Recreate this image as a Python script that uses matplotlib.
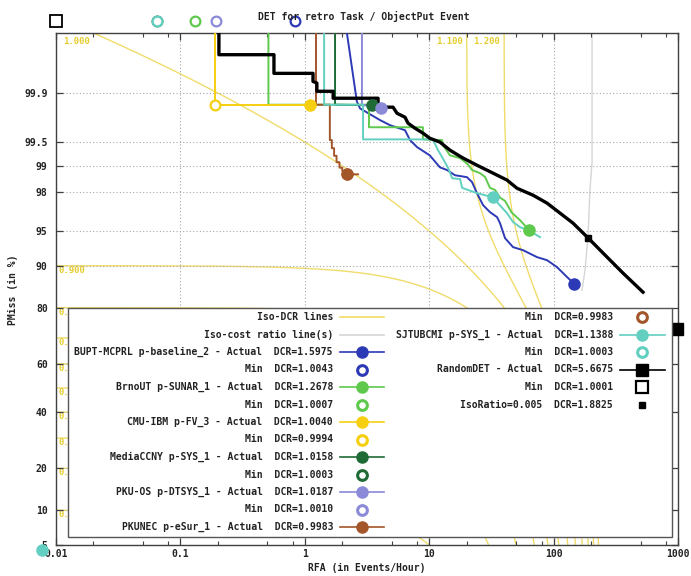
import math
import numpy as np
import matplotlib
matplotlib.use("Agg")
import matplotlib.pyplot as plt
from matplotlib.lines import Line2D
from matplotlib.patches import Rectangle
from matplotlib.ticker import FixedLocator, NullFormatter, NullLocator
from statistics import NormalDist

# ---------------- data ----------------
title = "DET for retro Task / ObjectPut Event"
xlabel = "RFA (in Events/Hour)"
ylabel = "PMiss (in %)"

beta = 0.005
iso_dcr_levels = [0.1, 0.2, 0.3, 0.4, 0.5, 0.6, 0.7, 0.8, 0.9, 1.0, 1.1, 1.2]

x_ticks = [0.01, 0.1, 1, 10, 100, 1000]
x_tick_labels = ["0.01", "0.1", "1", "10", "100", "1000"]
y_ticks = [5, 10, 20, 40, 60, 80, 90, 95, 98, 99, 99.5, 99.9]
y_tick_labels = ["5", "10", "20", "40", "60", "80", "90", "95", "98", "99", "99.5", "99.9"]

bupt_rfa = [0.83, 2.1, 2.18, 2.62, 2.78, 4.02, 4.84, 6.39, 7.01, 7.98, 10.1, 12.2, 13.9, 16.1,
            20.1, 22.1, 24.2, 27.1, 30.8, 35.1, 37.1, 40.7, 47.2, 56.8, 73.6, 88.6, 106.6, 128.3, 147.0]
bupt_pmiss = [100, 100, 99.99, 99.866, 99.83, 99.75, 99.705, 99.654, 99.53, 99.42, 99.26, 98.96, 98.88,
              98.71, 98.64, 98.45, 97.94, 97.23, 96.73, 96.33, 95.79, 94.18, 93.0, 92.56, 91.48, 90.97,
              89.72, 87.74, 86.2]

brno_rfa = [0.13, 0.51, 0.51, 3.28, 3.28, 8.9, 8.9, 12.7, 12.9, 14.7, 17.7, 20.5, 22.1, 25.6, 28.1,
            30.8, 33.8, 37.1, 40.7, 46.0, 53.7, 60.5, 63.5]
brno_pmiss = [100, 100, 99.85, 99.85, 99.685, 99.685, 99.54, 99.53, 99.45, 99.26, 99.2, 99.04, 98.88,
              98.78, 98.65, 98.2, 98.1, 97.7, 97.5, 96.7, 96.06, 95.4, 95.1]

cmu_rfa = [0.19, 0.19, 1.1]
cmu_pmiss = [100, 99.85, 99.85]

ccny_rfa = [0.065, 1.75, 1.75, 3.47]
ccny_pmiss = [100, 100, 99.85, 99.847]

pkuos_rfa = [0.195, 2.88, 2.88, 4.1]
pkuos_pmiss = [100, 100, 99.85, 99.835]

pkunec_rfa = [1.23, 1.23, 1.59, 1.59, 1.65, 1.65, 1.72, 1.72, 1.80, 1.80, 1.90, 1.90, 2.0, 2.0, 2.18, 2.68]
pkunec_pmiss = [100, 99.85, 99.85, 99.53, 99.53, 99.4, 99.4, 99.25, 99.25, 99.1, 99.1, 98.95, 98.95,
                98.85, 98.74, 98.74]

sjtu_rfa = [0.065, 1.43, 1.43, 2.94, 2.94, 10.7, 11.8, 12.7, 14.2, 15.3, 17.7, 18.4, 20.5, 24.2, 29.2,
            32.3, 42.2, 47.2, 53.7, 62.3, 77.8]
sjtu_pmiss = [100, 100, 99.85, 99.85, 99.54, 99.54, 99.36, 99.22, 98.94, 98.6, 98.57, 98.2, 98.1,
              97.94, 97.8, 97.72, 96.65, 95.9, 95.4, 95.1, 94.3]

rand_rfa = [0.01, 0.204, 0.204, 0.565, 0.565, 1.164, 1.164, 1.25, 1.25, 1.69, 1.69, 3.88, 3.88, 5.12,
            5.51, 6.39, 6.76, 7.69, 8.92, 10.1, 12.2, 14.7, 18.7, 24.2, 32.6, 42.2, 50.8, 68.3, 88.6,
            112.7, 143.3, 188.0, 249.9, 361.7, 523.2]
rand_pmiss = [100, 100, 99.976, 99.976, 99.951, 99.951, 99.934, 99.93, 99.906, 99.906, 99.88, 99.88,
              99.837, 99.837, 99.80, 99.772, 99.723, 99.675, 99.62, 99.556, 99.5, 99.363, 99.2, 99.02,
              98.78, 98.53, 98.18, 97.83, 97.36, 96.65, 95.79, 94.25, 92.12, 88.55, 84.23]

isoratio_line_rfa = [203.7, 203.7, 196, 189, 179, 169]
isoratio_line_pmiss = [100, 99.1, 98.1, 94.3, 89.2, 84.7]

# actual / min points per system
sys_names = ["BUPT-MCPRL p-baseline_2", "BrnoUT p-SUNAR_1", "CMU-IBM p-FV_3", "MediaCCNY p-SYS_1",
             "PKU-OS p-DTSYS_1", "PKUNEC p-eSur_1", "SJTUBCMI p-SYS_1", "RandomDET"]
sys_colors = ["#2d3ab5", "#5ec94c", "#f6cf10", "#1f6b35", "#8a8ad8", "#a4562b", "#62cfc0", "#000000"]
actual_dcr = ["1.5975", "1.2678", "1.0040", "1.0158", "1.0187", "0.9983", "1.1388", "5.6675"]
min_dcr = ["1.0043", "1.0007", "0.9994", "1.0003", "1.0010", "0.9983", "1.0003", "1.0001"]
actual_rfa = [147.0, 63.5, 1.1, 3.47, 4.1, 2.18, 32.3, 987.0]
actual_pmiss = [86.2, 95.1, 99.85, 99.847, 99.835, 98.74, 97.72, 73.1]
min_rfa = [0.83, 0.13, 0.19, 0.065, 0.195, 2.18, 0.065, 0.01]
min_pmiss = [99.994, 99.994, 99.85, 99.994, 99.994, 98.74, 99.994, 99.994]
curves_rfa = [bupt_rfa, brno_rfa, cmu_rfa, ccny_rfa, pkuos_rfa, pkunec_rfa, sjtu_rfa, rand_rfa]
curves_pmiss = [bupt_pmiss, brno_pmiss, cmu_pmiss, ccny_pmiss, pkuos_pmiss, pkunec_pmiss, sjtu_pmiss, rand_pmiss]

isoratio_label = "IsoRatio=0.005"
isoratio_dcr = "1.8825"
isoratio_rfa = 188.0
isoratio_pmiss = 94.25

stray_rfa = 0.0077
stray_pmiss = 4.5

# ---------------- styles ----------------
iso_color = "#f1dc6a"
iso_text_color = "#e6cc2a"
gray_color = "#d6d6d6"
text_color = "#222222"
FONT = dict(family="DejaVu Sans Mono", weight="bold", size=7)

_nd = NormalDist()
_inv_cdf = np.vectorize(_nd.inv_cdf, otypes=[float])
_erf = np.vectorize(math.erf, otypes=[float])


def fwd(p):
    p = np.asarray(p, dtype=float)
    q = np.clip(p / 100.0, 1e-9, 1 - 1e-9)
    return _inv_cdf(q)


def inv(z):
    z = np.asarray(z, dtype=float)
    return 50.0 * (1.0 + _erf(z / math.sqrt(2.0)))


W, H = 691, 576
fig = plt.figure(figsize=(W / 100, H / 100), dpi=100)
ax = fig.add_axes([56 / W, 1 - 545 / H, 622 / W, 512 / H])


def fx(px):
    return px / W


def fy(py):
    return 1 - py / H


ax.set_xscale("log")
ax.set_yscale("function", functions=(fwd, inv))
ax.set_xlim(0.01, 1000)
ax.set_ylim(5, 99.99)

# ticks and grid
ax.xaxis.set_major_locator(FixedLocator(x_ticks))
ax.set_xticklabels(x_tick_labels, **FONT, color=text_color)
minor = [m * d for d in [0.01, 0.1, 1, 10, 100] for m in (2, 5, 8)]
ax.xaxis.set_minor_locator(FixedLocator(minor))
ax.xaxis.set_minor_formatter(NullFormatter())
ax.yaxis.set_major_locator(FixedLocator(y_ticks))
ax.set_yticklabels(y_tick_labels, **FONT, color=text_color)
ax.yaxis.set_minor_locator(NullLocator())
ax.grid(True, which="major", ls=(0, (1, 2)), color="#a8a8a8", lw=0.8, zorder=0)
ax.tick_params(which="both", direction="in", top=True, right=True, color="#404040")
ax.tick_params(which="major", length=5, width=0.9)
ax.tick_params(which="minor", length=3, width=0.8)
ax.tick_params(axis="y", pad=6)
ax.tick_params(axis="x", pad=3)
for s in ax.spines.values():
    s.set_color("#404040")
    s.set_linewidth(1.0)

# iso-DCR lines
rfa_grid = np.logspace(-2.2, 3.2, 4000)
for lvl in iso_dcr_levels:
    p = np.clip((lvl - beta * rfa_grid) * 100.0, 1e-7, 100.0)
    ax.plot(rfa_grid, p, color=iso_color, lw=1.0, zorder=1)
    lab = "%.3f" % lvl
    if lvl < 1.0:
        ax.text(0.0104, lvl * 100, lab, ha="left", va="top", color=iso_text_color,
                family="DejaVu Sans Mono", weight="bold", size=6.5, zorder=1)
    else:
        entry = (lvl - 0.9999) / beta
        ax.text(entry * 0.93, 99.988, lab, ha="right", va="top", color=iso_text_color,
                family="DejaVu Sans Mono", weight="bold", size=6.5, zorder=1)

# iso-cost ratio line
ax.plot(isoratio_line_rfa, isoratio_line_pmiss, color=gray_color, lw=1.0, zorder=1)

# system curves
for i in range(len(sys_names)):
    c = sys_colors[i]
    lw = 2.4 if sys_names[i] == "RandomDET" else 1.4
    ax.plot(curves_rfa[i], curves_pmiss[i], color=c, lw=lw, zorder=3 + (i == 7))
    if sys_names[i] == "RandomDET":
        ax.plot([min_rfa[i]], [min_pmiss[i]], marker="s", ms=8, mfc="white", mec=c, mew=1.3,
                ls="none", clip_on=False, zorder=6)
        ax.plot([actual_rfa[i]], [actual_pmiss[i]], marker="s", ms=8, color=c, ls="none",
                clip_on=False, zorder=6)
    else:
        ax.plot([min_rfa[i]], [min_pmiss[i]], marker="o", ms=7, mfc="white", mec=c, mew=1.6,
                ls="none", clip_on=False, zorder=5 - (i == 3))
        ax.plot([actual_rfa[i]], [actual_pmiss[i]], marker="o", ms=8, color=c, ls="none",
                clip_on=False, zorder=6)

ax.plot([isoratio_rfa], [isoratio_pmiss], marker="s", ms=5, color="black", ls="none", zorder=7)
ax.plot([stray_rfa], [stray_pmiss], marker="o", ms=8, color=sys_colors[6], ls="none",
        clip_on=False, zorder=7)

# ---------------- texts ----------------
fig.text(fx(364), fy(16), title, ha="center", va="center", color=text_color, **FONT)
fig.text(fx(367), fy(568), xlabel, ha="center", va="center", color=text_color, **FONT)
fig.text(fx(13), fy(290), ylabel, ha="center", va="center", rotation=90, color=text_color, **FONT)

# ---------------- legend (gnuplot-like key) ----------------
entries = [("Iso-DCR lines", iso_color, "line", None),
           ("Iso-cost ratio line(s)", gray_color, "line", None)]
for i in range(len(sys_names)):
    mk = "s" if sys_names[i] == "RandomDET" else "o"
    entries.append(("%s - Actual  DCR=%s" % (sys_names[i], actual_dcr[i]), sys_colors[i], "actual", mk))
    entries.append(("Min  DCR=%s" % min_dcr[i], sys_colors[i], "min", mk))
entries.append(("%s  DCR=%s" % (isoratio_label, isoratio_dcr), "black", "iso", "s"))

box = Rectangle((fx(68), fy(537)), (672 - 68) / W, (537 - 308) / H, transform=fig.transFigure,
                facecolor="white", edgecolor="#555555", lw=1.0, zorder=10)
fig.add_artist(box)

n_left = 13
for k, (label, col, kind, mk) in enumerate(entries):
    if k < n_left:
        row, tx, lx0, lx1, mx = k, 333, 340, 384, 362
    else:
        row, tx, lx0, lx1, mx = k - n_left, 613, 620, 665, 642
    y = 317 + 17.5 * row
    fig.text(fx(tx), fy(y), label, ha="right", va="center", color=text_color, zorder=12, **FONT)
    if kind in ("line", "actual"):
        fig.add_artist(Line2D([fx(lx0), fx(lx1)], [fy(y), fy(y)], transform=fig.transFigure,
                              color=col, lw=1.2, zorder=11))
    if kind == "actual":
        fig.add_artist(Line2D([fx(mx)], [fy(y)], transform=fig.transFigure, marker=mk, ms=8,
                              color=col, ls="none", zorder=12))
    elif kind == "min":
        fig.add_artist(Line2D([fx(mx)], [fy(y)], transform=fig.transFigure, marker=mk,
                              ms=8 if mk == "s" else 7, mfc="white", mec=col,
                              mew=1.6 if mk == "s" else 2.2, ls="none", zorder=12))
    elif kind == "iso":
        fig.add_artist(Line2D([fx(mx)], [fy(y)], transform=fig.transFigure, marker="s", ms=5,
                              color=col, ls="none", zorder=12))

fig.savefig("out.png", dpi=100)
